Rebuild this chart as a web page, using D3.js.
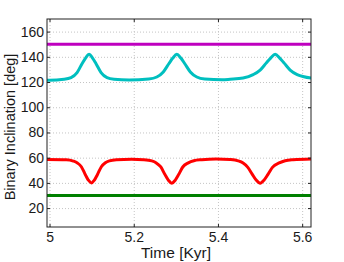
<!DOCTYPE html>
<html>
<head>
<meta charset="utf-8">
<script src="https://cdn.jsdelivr.net/npm/d3@7"></script>
<style>
  html, body { margin: 0; padding: 0; background: #fff; }
  svg { display: block; font-family: "Liberation Sans", Arial, Helvetica, sans-serif; }
  .grid line { stroke: #c4c4c4; stroke-dasharray: 1,2; }
  .grid path { display: none; }
</style>
</head>
<body>
<div id="chart"></div>
<script>
// tick labels
const xTicks = [5, 5.2, 5.4, 5.6];
const yTicks = [20, 40, 60, 80, 100, 120, 140, 160];

// constant series
const magentaT = [4.994, 5.621];
const magentaV = [150, 150];
const greenT = [4.994, 5.621];
const greenV = [30, 30];

// cyan series (peaks near 5.09, 5.30, 5.54)
const cyanT = [4.994, 5.000, 5.0345, 5.0511, 5.0654, 5.0772, 5.0856, 5.0939, 5.1022, 5.1105, 5.1224, 5.1366, 5.1533, 5.1889,
  5.2357, 5.2548, 5.2702, 5.2833, 5.2928, 5.3023, 5.3118, 5.3213, 5.3344, 5.3498, 5.3688, 5.4099,
  5.4289, 5.4598, 5.4836, 5.5002, 5.5145, 5.5252, 5.5359, 5.5466, 5.5573, 5.5715, 5.5882, 5.6214];
const cyanV = [121.5, 121.5, 122.2, 123.5, 127.5, 134.5, 139, 142, 139, 134.5, 127.5, 123.5, 122.2, 121.6,
  122.4, 124.0, 128.0, 134.5, 139, 142, 139, 134.5, 128.0, 124.0, 122.4, 121.8,
  122.2, 123.2, 125.9, 129.5, 135, 139, 142, 139, 135, 129.5, 125.9, 123.2];

// red series (dips near 5.10, 5.29, 5.50)
const redT = [4.994, 5.0399, 5.0566, 5.0661, 5.0756, 5.0851, 5.0922, 5.0993, 5.1065, 5.1136, 5.1231, 5.1326, 5.1421, 5.1587, 5.1949,
  5.2239, 5.2429, 5.2536, 5.2643, 5.2738, 5.2821, 5.2904, 5.2987, 5.3070, 5.3165, 5.3296, 5.3427, 5.3617, 5.3957,
  5.4289, 5.4480, 5.4598, 5.4705, 5.4812, 5.4907, 5.5002, 5.5097, 5.5192, 5.5299, 5.5454, 5.5596, 5.5787, 5.6214];
const redV = [58.6, 58.4, 57.3, 55.8, 52.8, 46.5, 42.2, 40, 42.2, 46.5, 52.8, 56.0, 57.5, 58.4, 58.8,
  58.4, 57.4, 55.8, 52.6, 46.8, 42.2, 39.7, 42.2, 46.8, 52.6, 55.9, 57.6, 58.4, 59.0,
  58.5, 57.5, 55.8, 52.5, 47, 42.3, 39.8, 42.3, 47, 52.5, 55.8, 57.6, 58.4, 59.0];

const width = 344;
const height = 262;
const margin = { top: 19, right: 33, bottom: 35, left: 47 };
const innerW = width - margin.left - margin.right;
const innerH = height - margin.top - margin.bottom;

const svg = d3.select('#chart')
    .append('svg')
    .attr('width', width)
    .attr('height', height);

const g = svg.append('g')
    .attr('transform', `translate(${margin.left},${margin.top})`);

const x = d3.scaleLinear().domain([4.994, 5.621]).range([0, innerW]);
const y = d3.scaleLinear().domain([5, 170]).range([innerH, 0]);

// grid
g.append('g')
    .attr('class', 'grid')
    .attr('transform', `translate(0,${innerH})`)
    .call(d3.axisBottom(x).tickValues(xTicks).tickSize(-innerH).tickFormat(''));
g.append('g')
    .attr('class', 'grid')
    .call(d3.axisLeft(y).tickValues(yTicks).tickSize(-innerW).tickFormat(''));

// lines
const series = [
    { t: magentaT, v: magentaV, color: '#bf00bf' },
    { t: cyanT, v: cyanV, color: '#00bfbf' },
    { t: redT, v: redV, color: '#ff0000' },
    { t: greenT, v: greenV, color: '#008000' }
];

const line = d3.line()
    .x(d => x(d[0]))
    .y(d => y(d[1]))
    .curve(d3.curveMonotoneX);

g.append('defs').append('clipPath').attr('id', 'clip')
    .append('rect').attr('width', innerW).attr('height', innerH);

series.forEach(s => {
    g.append('path')
        .datum(s.t.map((t, i) => [t, s.v[i]]))
        .attr('clip-path', 'url(#clip)')
        .attr('fill', 'none')
        .attr('stroke', s.color)
        .attr('stroke-width', 3)
        .attr('d', line);
});

// axes (ticks inside, box on)
const styleAxis = sel => {
    sel.select('.domain').remove();
    sel.selectAll('line').attr('stroke', '#222');
    sel.selectAll('text').attr('fill', '#1a1a1a').style('font-size', '14px');
};

g.append('g')
    .attr('transform', `translate(0,${innerH})`)
    .call(d3.axisBottom(x).tickValues(xTicks).tickSizeInner(-3).tickSizeOuter(0).tickPadding(5).tickFormat(d3.format('')))
    .call(styleAxis);
g.append('g')
    .call(d3.axisTop(x).tickValues(xTicks).tickSizeInner(-3).tickSizeOuter(0).tickFormat(''))
    .call(styleAxis);
g.append('g')
    .call(d3.axisLeft(y).tickValues(yTicks).tickSizeInner(-3).tickSizeOuter(0).tickPadding(3))
    .call(styleAxis);
g.append('g')
    .attr('transform', `translate(${innerW},0)`)
    .call(d3.axisRight(y).tickValues(yTicks).tickSizeInner(-3).tickSizeOuter(0).tickFormat(''))
    .call(styleAxis);

g.append('rect')
    .attr('width', innerW)
    .attr('height', innerH)
    .attr('fill', 'none')
    .attr('stroke', '#222')
    .attr('stroke-width', 1);

// axis titles
svg.append('text')
    .attr('x', margin.left + innerW / 2 - 3)
    .attr('y', 258)
    .attr('text-anchor', 'middle')
    .attr('fill', '#1a1a1a')
    .style('font-size', '15.5px')
    .text('Time [Kyr]');

svg.append('text')
    .attr('transform', `translate(15,${margin.top + innerH / 2 + 4}) rotate(-90)`)
    .attr('text-anchor', 'middle')
    .attr('fill', '#1a1a1a')
    .style('font-size', '14.5px')
    .text('Binary Inclination [deg]');
</script>
</body>
</html>
